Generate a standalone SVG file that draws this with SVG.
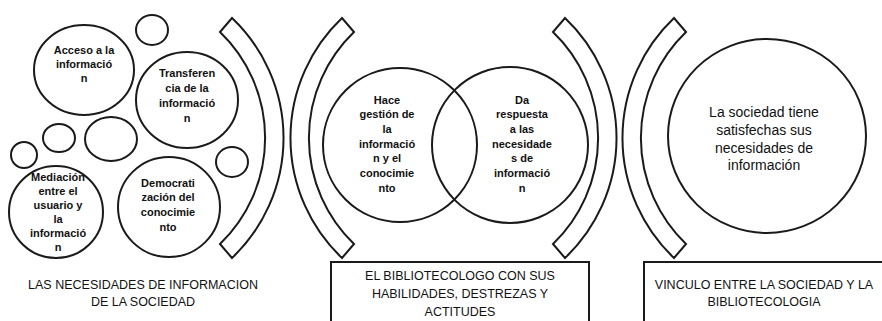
<svg xmlns="http://www.w3.org/2000/svg" width="882" height="321" viewBox="0 0 882 321">
<style>
.c{fill:none;stroke:#1a1a1a;stroke-width:2}
.b{fill:#fff;stroke:#1a1a1a;stroke-width:2;stroke-linejoin:miter}
.t{font-family:"Liberation Sans",Arial,sans-serif;font-size:11px;font-weight:bold;fill:#111;text-anchor:middle}
.tl{font-family:"Liberation Sans",Arial,sans-serif;font-size:14px;fill:#111;text-anchor:middle}
.lb{font-family:"Liberation Sans",Arial,sans-serif;font-size:12.5px;fill:#111;text-anchor:middle}
</style>
<rect width="882" height="321" fill="#fff"/>

<g id="brackets">
<path class="b" d="M232 18 A165.5 165.5 0 0 1 232 258 L220 244 A147.1 147.1 0 0 0 220 32 Z"/>
<path class="b" d="M342 18 A165.5 165.5 0 0 0 342 258 L354 244 A147.1 147.1 0 0 1 354 32 Z"/>
<path class="b" d="M565 18 A165.5 165.5 0 0 1 565 258 L553 244 A147.1 147.1 0 0 0 553 32 Z"/>
<path class="b" d="M674 18 A165.5 165.5 0 0 0 674 258 L686 244 A147.1 147.1 0 0 1 686 32 Z"/>
</g>

<g id="deco-circles">
<ellipse class="c" cx="152" cy="30" rx="16" ry="15"/>
<ellipse class="c" cx="24" cy="155" rx="13" ry="13"/>
<ellipse class="c" cx="59" cy="138" rx="16" ry="14"/>
<ellipse class="c" cx="111" cy="139" rx="26" ry="22"/>
<ellipse class="c" cx="232" cy="162" rx="16" ry="15"/>
</g>

<g id="acceso">
<ellipse class="c" cx="84" cy="70" rx="50" ry="45"/>
<text class="t" x="84"><tspan x="84" y="54">Acceso a la</tspan><tspan x="84" y="68">informació</tspan><tspan x="84" y="82">n</tspan></text>
</g>

<g id="transferencia">
<ellipse class="c" cx="187" cy="100" rx="51" ry="48"/>
<text class="t"><tspan x="187" y="77">Transferen</tspan><tspan x="187" y="92">cia de la</tspan><tspan x="187" y="107">informació</tspan><tspan x="187" y="122">n</tspan></text>
</g>

<g id="mediacion">
<ellipse class="c" cx="56" cy="212" rx="47" ry="46"/>
<text class="t"><tspan x="58" y="181">Mediación</tspan><tspan x="58" y="195">entre el</tspan><tspan x="58" y="209">usuario y</tspan><tspan x="58" y="223">la</tspan><tspan x="58" y="237">informació</tspan><tspan x="58" y="251">n</tspan></text>
</g>

<g id="democratizacion">
<ellipse class="c" cx="169" cy="207" rx="51" ry="50"/>
<text class="t"><tspan x="168" y="187">Democrati</tspan><tspan x="168" y="201">zación del</tspan><tspan x="168" y="216">conocimie</tspan><tspan x="168" y="231">nto</tspan></text>
</g>

<g id="gestion">
<circle class="c" cx="400" cy="145" r="77"/>
<text class="t"><tspan x="387" y="104">Hace</tspan><tspan x="387" y="118">gestión de</tspan><tspan x="387" y="133">la</tspan><tspan x="387" y="148">informació</tspan><tspan x="387" y="162">n y el</tspan><tspan x="387" y="177">conocimie</tspan><tspan x="387" y="192">nto</tspan></text>
</g>

<g id="respuesta">
<circle class="c" cx="510" cy="145" r="78"/>
<text class="t"><tspan x="522" y="104">Da</tspan><tspan x="522" y="118">respuesta</tspan><tspan x="522" y="133">a las</tspan><tspan x="522" y="148">necesidade</tspan><tspan x="522" y="162">s de</tspan><tspan x="522" y="177">informació</tspan><tspan x="522" y="192">n</tspan></text>
</g>

<g id="satisfechas">
<ellipse class="c" cx="767" cy="136" rx="99" ry="97"/>
<text class="tl"><tspan x="764" y="117">La sociedad tiene</tspan><tspan x="764" y="135">satisfechas sus</tspan><tspan x="764" y="153">necesidades de</tspan><tspan x="764" y="170">información</tspan></text>
</g>

<g id="label-necesidades">
<text class="lb"><tspan x="143" y="289">LAS NECESIDADES DE INFORMACION</tspan><tspan x="143" y="306">DE LA SOCIEDAD</tspan></text>
</g>

<g id="box-bibliotecologo">
<rect class="c" x="331" y="262" width="258" height="80"/>
<text class="lb"><tspan x="460" y="280">EL BIBLIOTECOLOGO CON SUS</tspan><tspan x="460" y="298">HABILIDADES, DESTREZAS Y</tspan><tspan x="460" y="316">ACTITUDES</tspan></text>
</g>

<g id="box-vinculo">
<rect class="c" x="644" y="262" width="260" height="80"/>
<text class="lb"><tspan x="764" y="289">VINCULO ENTRE LA SOCIEDAD Y LA</tspan><tspan x="764" y="306">BIBLIOTECOLOGIA</tspan></text>
</g>
</svg>
